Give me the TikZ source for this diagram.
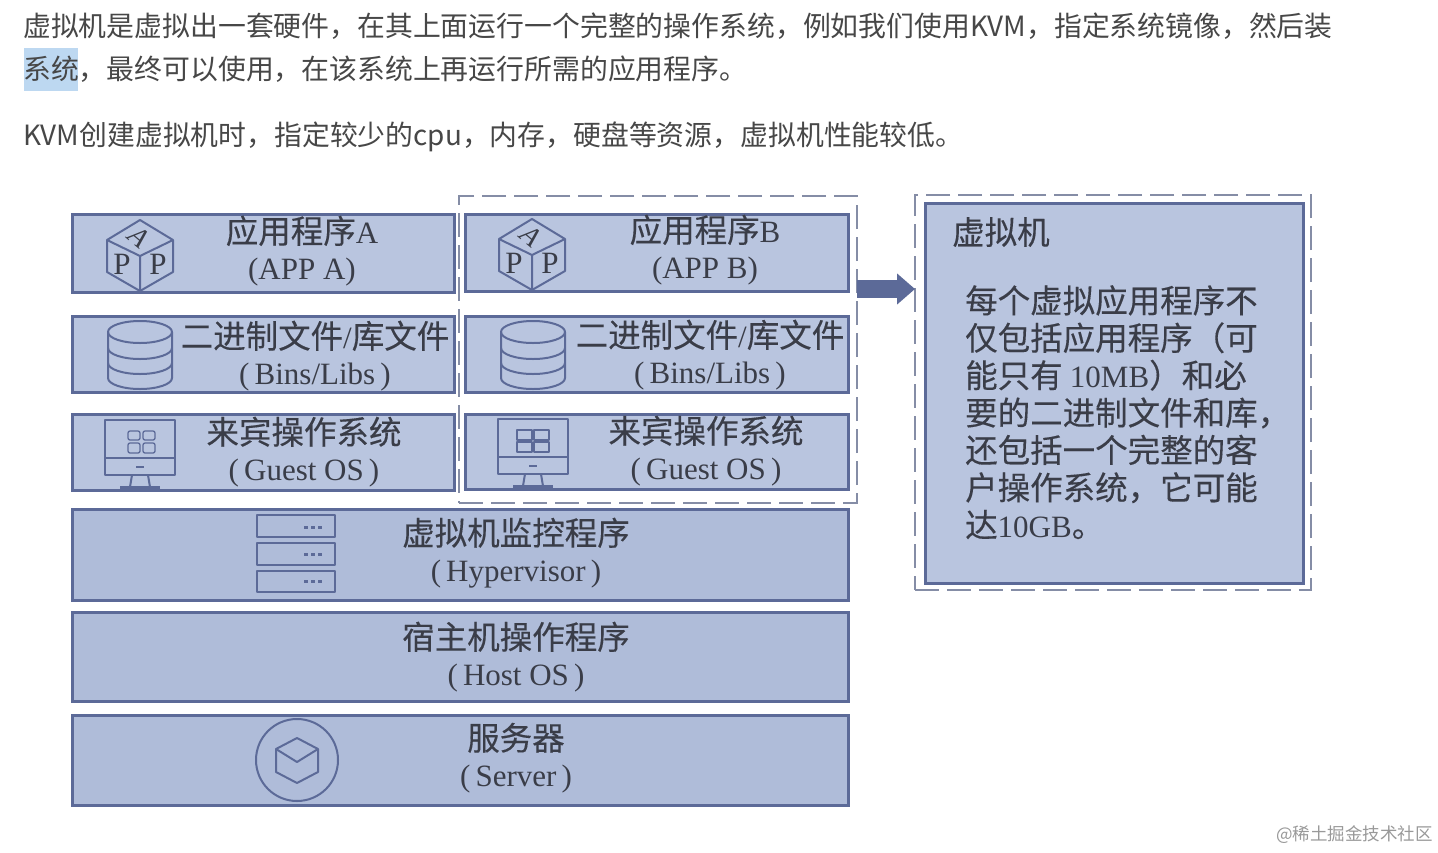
\documentclass[tikz,border=0pt]{standalone}
\usepackage{fontspec}
\usetikzlibrary{arrows.meta}
\setmainfont{Noto Sans CJK SC}
\newfontfamily\tnr{Liberation Serif}
\newfontfamily\dcjk[FakeBold=0.25]{Noto Sans CJK SC}
\newcommand{\lat}[1]{{\tnr\fontsize{31}{37}\selectfont #1}}
\definecolor{boxfill}{HTML}{B9C5DF}
\definecolor{boxdark}{HTML}{AFBCD9}
\definecolor{boxline}{HTML}{5C6A98}
\definecolor{inkdark}{HTML}{3A3D48}
\definecolor{dashline}{HTML}{858DA6}
\definecolor{hilite}{HTML}{BDD8F1}
\tikzset{
  x=1pt,y=-1pt,
  layerbox/.style={draw=boxline,fill=boxfill,line width=3pt,inner sep=0pt,outer sep=0pt,anchor=north west},
  darkbox/.style={layerbox,fill=boxdark},
  dashbox/.style={draw=dashline,line width=2.2pt,dash pattern=on 24pt off 8pt,inner sep=0pt,outer sep=0pt,anchor=north west},
  difont/.style={font=\dcjk\fontsize{32.5}{36.5}\selectfont,text=inkdark,align=center,inner sep=0pt},
  bodyfont/.style={font=\fontsize{27.85}{40}\selectfont,text=black!72,inner sep=0pt,anchor=west},
  icon/.style={draw=boxline,line width=2pt,line join=round},
  iconlabel/.style={font=\tnr\fontsize{31}{31}\selectfont,text=inkdark,inner sep=0pt},
}
\newcommand{\cubeicon}[4]{% cx cy letter name-prefix
  \begin{scope}[shift={(#1,#2)}]
    \draw[icon] (0,-36)--(33,-16)--(33,16)--(0,35)--(-33,16)--(-33,-16)--cycle;
    \draw[icon] (-33,-16)--(0,0)--(33,-16) (0,0)--(0,35);
    \node[iconlabel,rotate=-40] (#4a) at (-1,-19) {\fontsize{28}{28}\selectfont\itshape #3};
    \node[iconlabel] (#4b) at (-18,8) {P};
    \node[iconlabel] (#4c) at (18,8) {P};
  \end{scope}}
\newcommand{\dbicon}[2]{%
  \begin{scope}[shift={(#1,#2)}]
    \draw[icon] (-32,-22) ellipse [x radius=32,y radius=11];
    \draw[icon] (-64,-22) -- (-64,24) arc[start angle=180,end angle=360,x radius=32,y radius=-11] -- (0,-22);
    \draw[icon] (-64,-6) arc[start angle=180,end angle=360,x radius=32,y radius=-11];
    \draw[icon] (-64,9) arc[start angle=180,end angle=360,x radius=32,y radius=-11];
  \end{scope}}
\newcommand{\monicon}[3]{%
  \begin{scope}[shift={(#1,#2)}]
    \draw[icon] (0,0) rectangle (70,55);
    \draw[icon] (0,38)--(70,38);
    \draw[icon] (31,47)--(39,47);
    \draw[icon] (27,55)--(25,67) (43,55)--(45,67);
    \draw[icon,line width=3.5pt] (15,68)--(55,68);
    #3
  \end{scope}}
\begin{document}
\begin{tikzpicture}
\useasboundingbox (0,0) rectangle (1438,852);
\fill[white] (0,0) rectangle (1438,852);
% top text
\fill[hilite] (24,48) rectangle (78,91);
\node[bodyfont] (l1) at (23,26) {虚拟机是虚拟出一套硬件，在其上面运行一个完整的操作系统，例如我们使用KVM，指定系统镜像，然后装};
\node[bodyfont] (l2) at (23,69) {系统，最终可以使用，在该系统上再运行所需的应用程序。};
\node[bodyfont] (l3) at (23,137) {KVM创建虚拟机时，指定较少的cpu，内存，硬盘等资源，虚拟机性能较低。};

% dashed groups
\node[dashbox,minimum width=398pt,minimum height=307pt] (group) at (459,196) {};
\node[dashbox,minimum width=396pt,minimum height=395pt] (vmouter) at (915,195) {};
\node[layerbox,minimum width=378pt,minimum height=380pt] (vmbox) at (925,203) {};

% layers
\node[layerbox,minimum width=382pt,minimum height=78pt] (appa) at (72,214) {};
\node[layerbox,minimum width=382pt,minimum height=76pt] (binsa) at (72,316) {};
\node[layerbox,minimum width=382pt,minimum height=76pt] (osa) at (72,414) {};
\node[layerbox,minimum width=383pt,minimum height=77pt] (appb) at (465,214) {};
\node[layerbox,minimum width=383pt,minimum height=76pt] (binsb) at (465,316) {};
\node[layerbox,minimum width=383pt,minimum height=75pt] (osb) at (465,414) {};
\node[darkbox,minimum width=776pt,minimum height=91pt] (hyper) at (72,509) {};
\node[darkbox,minimum width=776pt,minimum height=89pt] (host) at (72,612) {};
\node[darkbox,minimum width=776pt,minimum height=90pt] (server) at (72,715) {};

% labels
\node[difont] (tappa) at (302,251) {应用程序\lat{A}\\\lat{(APP A)}};
\node[difont] (tappb) at (705,250) {应用程序\lat{B}\\\lat{(APP B)}};
\node[difont] (tbinsa) at (315,356) {二进制文件\lat{/}库文件\\\lat{(\,Bins/Libs\,)}};
\node[difont] (tbinsb) at (710,355) {二进制文件\lat{/}库文件\\\lat{(\,Bins/Libs\,)}};
\node[difont] (tosa) at (304,452) {来宾操作系统\\\lat{(\,Guest OS\,)}};
\node[difont] (tosb) at (706,451) {来宾操作系统\\\lat{(\,Guest OS\,)}};
\node[difont] (thyper) at (516,553) {虚拟机监控程序\\\lat{(\,Hypervisor\,)}};
\node[difont] (thost) at (516,657) {宿主机操作程序\\\lat{(\,Host OS\,)}};
\node[difont] (tserver) at (516,758) {服务器\\\lat{(\,Server\,)}};
\node[difont,anchor=west] (tvm) at (952,232) {虚拟机};
\node[difont,anchor=north west,align=left,font=\dcjk\fontsize{32.5}{37.4}\selectfont] (tpara) at (965,285) {每个虚拟应用程序不\\仅包括应用程序（可\\能只有 \lat{10MB}）和必\\要的二进制文件和库，\\还包括一个完整的客\\户操作系统，它可能\\达\lat{10GB}。};

% icons
\cubeicon{140}{256}{A}{ca}
\cubeicon{532}{255}{A}{cb}
\dbicon{172}{354}
\dbicon{565}{354}
\monicon{105}{420}{%
  \draw[icon,line width=1.3pt,rounded corners=2pt] (23,11) rectangle (35,20) (38,11) rectangle (50,20) (23,23) rectangle (35,33) (38,23) rectangle (50,33);}
\monicon{498}{419}{%
  \draw[icon,line width=1.3pt] (19,11) rectangle (34,21) (36,11) rectangle (51,21) (19,23) rectangle (34,33) (36,23) rectangle (51,33);}
\begin{scope}
  \draw[icon,line width=2.4pt] (257,515) rectangle (335,537);
  \draw[icon,line width=2.4pt] (257,543) rectangle (335,565);
  \draw[icon,line width=2.4pt] (257,571) rectangle (335,592);
  \draw[boxline,line width=3pt,dash pattern=on 4pt off 3pt] (304,527)--(322,527) (304,554)--(322,554) (304,581)--(322,581);
\end{scope}
\begin{scope}[shift={(297,760)}]
  \draw[icon] (0,0) circle [radius=41];
  \draw[icon] (0,-22)--(21,-11)--(21,12)--(0,23)--(-21,12)--(-21,-11)--cycle;
  \draw[icon] (-21,-11)--(0,2)--(21,-11);
\end{scope}

% connector
\coordinate (arrs) at (group.east |- 0,289);
\coordinate (arre) at (vmouter.west |- 0,289);
\draw[draw=boxline,line width=18pt,-{Triangle[length=18pt,width=30pt]}] (arrs) -- (arre);

% watermark
\node[font=\fontsize{17.5}{20}\selectfont,text=black!40,inner sep=0pt,anchor=east] (wm) at (1433,835) {@稀土掘金技术社区};
\end{tikzpicture}
\end{document}
